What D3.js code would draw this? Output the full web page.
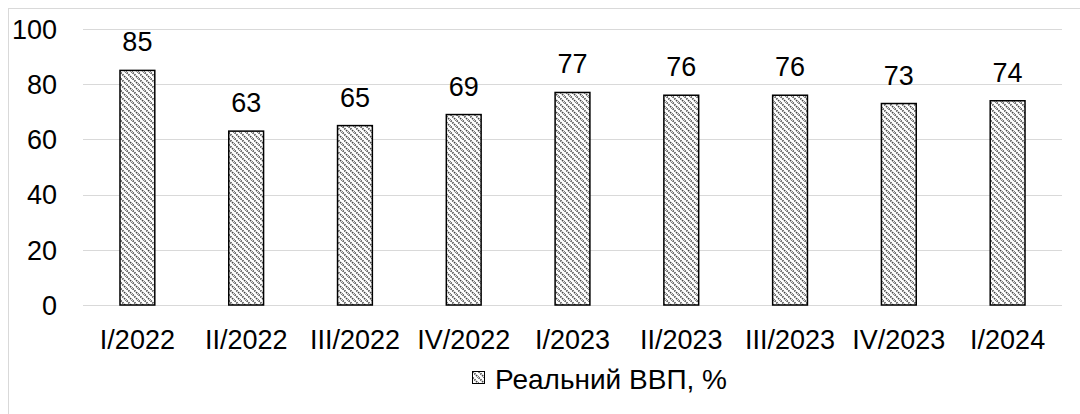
<!DOCTYPE html>
<html>
<head>
<meta charset="utf-8">
<script src="https://cdn.jsdelivr.net/npm/d3@7"></script>
<style>
  body { margin: 0; background: #fff; }
  text { font-family: "Liberation Sans", Arial, sans-serif; fill: #000; }
</style>
</head>
<body>
<div id="chart"></div>
<script>
const quarters = ["I/2022", "II/2022", "III/2022", "IV/2022", "I/2023", "II/2023", "III/2023", "IV/2023", "I/2024"];
const gdpValues = [85, 63, 65, 69, 77, 76, 76, 73, 74];
const yTicks = [0, 20, 40, 60, 80, 100];
const seriesName = "Реальний ВВП, %";

const width = 1080, height = 414;
const margin = {top: 29, right: 18, bottom: 109, left: 83};
const fontSize = "27px";

const svg = d3.select("#chart").append("svg")
    .attr("width", width)
    .attr("height", height);

// hatch pattern
const defs = svg.append("defs");
const pat = defs.append("pattern")
    .attr("id", "hatch")
    .attr("patternUnits", "userSpaceOnUse")
    .attr("width", 6)
    .attr("height", 6);
pat.append("rect").attr("width", 6).attr("height", 6).attr("fill", "#fff");
pat.append("path")
    .attr("d", "M-1,-1 L7,7 M-4,2 L4,10 M2,-4 L10,4")
    .attr("stroke", "#444")
    .attr("stroke-width", 1.8)
    .attr("stroke-dasharray", "1.4,1");

// outer frame
svg.append("rect")
    .attr("x", 8.5).attr("y", 8.5)
    .attr("width", width).attr("height", height)
    .attr("fill", "none")
    .attr("stroke", "#d9d9d9");

const x = d3.scaleBand()
    .domain(quarters)
    .range([margin.left, width - margin.right])
    .paddingInner(0.68)
    .paddingOuter(0.34);

const y = d3.scaleLinear()
    .domain([0, 100])
    .range([height - margin.bottom, margin.top]);

// gridlines
svg.append("g")
    .selectAll("line")
    .data(yTicks)
    .join("line")
    .attr("x1", margin.left)
    .attr("x2", width - margin.right)
    .attr("y1", d => Math.round(y(d)) + 0.5)
    .attr("y2", d => Math.round(y(d)) + 0.5)
    .attr("stroke", "#d9d9d9")
    .attr("stroke-width", 1);

// y labels
const yAxis = svg.append("g")
    .attr("transform", `translate(${margin.left}, 0)`)
    .call(d3.axisLeft(y).tickValues(yTicks).tickSize(0).tickPadding(26));
yAxis.select(".domain").remove();
yAxis.selectAll("text")
    .style("font-size", fontSize)
    .style("font-family", "Liberation Sans, Arial, sans-serif")
    .attr("dy", "0.345em");

// x labels
const xAxis = svg.append("g")
    .attr("transform", `translate(0, ${height - margin.bottom})`)
    .call(d3.axisBottom(x).tickSize(0).tickPadding(25));
xAxis.select(".domain").remove();
xAxis.selectAll("text")
    .style("font-size", fontSize)
    .style("font-family", "Liberation Sans, Arial, sans-serif");

// bars
svg.append("g")
    .selectAll("rect")
    .data(gdpValues)
    .join("rect")
    .attr("x", (d, i) => x(quarters[i]))
    .attr("y", d => y(d))
    .attr("width", x.bandwidth())
    .attr("height", d => y(0) - y(d))
    .attr("fill", "url(#hatch)")
    .attr("stroke", "#000")
    .attr("stroke-width", 1.5);

// value labels
svg.append("g")
    .selectAll("text")
    .data(gdpValues)
    .join("text")
    .attr("x", (d, i) => x(quarters[i]) + x.bandwidth() / 2)
    .attr("y", d => y(d) - 19)
    .attr("text-anchor", "middle")
    .style("font-size", fontSize)
    .text(d => d);

// legend
const legend = svg.append("g").attr("transform", "translate(472, 371)");
legend.append("rect")
    .attr("x", 0.5).attr("y", 0.5)
    .attr("width", 12).attr("height", 12)
    .attr("fill", "url(#hatch)")
    .attr("stroke", "#000")
    .attr("stroke-width", 1);
legend.append("text")
    .attr("x", 23)
    .attr("y", 18)
    .style("font-size", "28px")
    .text(seriesName);
</script>
</body>
</html>
